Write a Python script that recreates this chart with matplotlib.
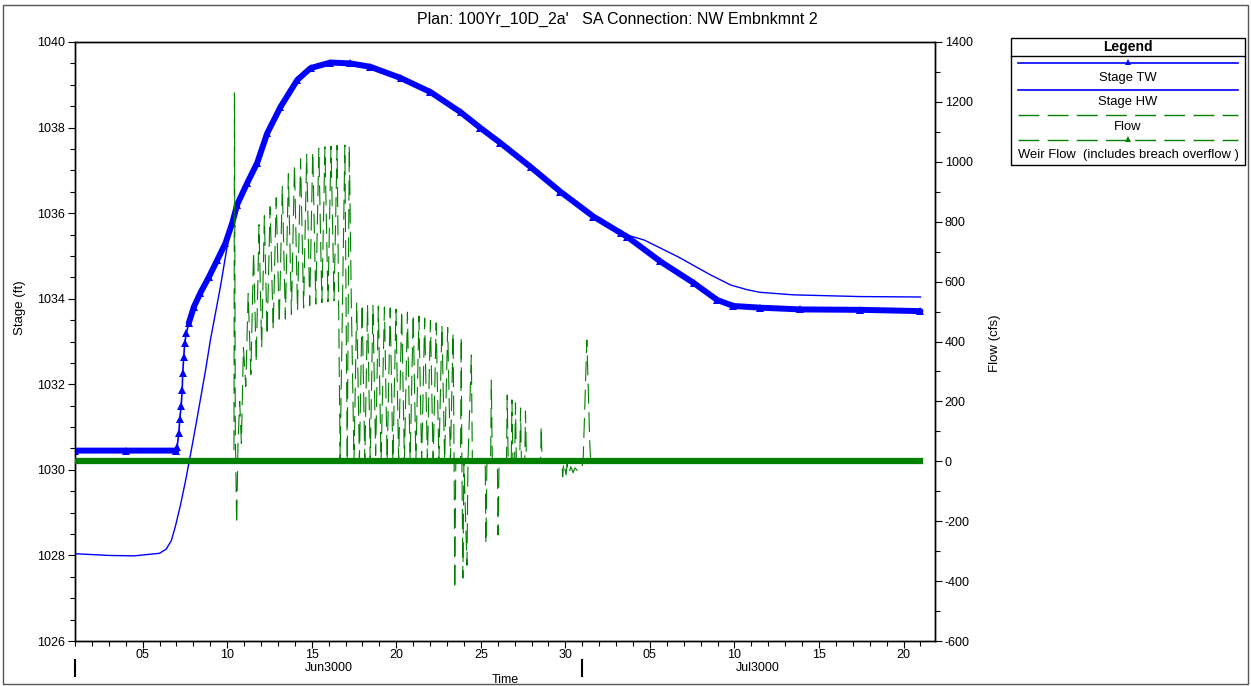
import matplotlib
matplotlib.use("Agg")
import numpy as np
import matplotlib.pyplot as plt
from matplotlib.ticker import MultipleLocator, FixedLocator, FuncFormatter
from matplotlib.patches import Rectangle
from matplotlib.lines import Line2D
import matplotlib.transforms as mtransforms

plt.rcParams['font.family'] = ['Liberation Sans', 'DejaVu Sans']

# ---------------- data (days since Jun 1 3000 00:00) ----------------
title = "Plan: 100Yr_10D_2a'   SA Connection: NW Embnkmnt 2"

tw_day = [0.0, 3.0, 6.0, 6.04, 6.14, 6.20, 6.28, 6.34, 6.37, 6.43, 6.49, 6.59, 6.73,
          7.03, 7.42, 7.91, 8.41, 8.90, 9.30, 9.59, 10.18, 10.77, 11.37, 12.15, 13.14,
          13.93, 15.11, 16.29, 17.47, 19.25, 21.02, 22.80, 23.98, 25.16, 26.94, 28.71,
          30.66, 32.30, 32.65, 34.62, 36.58, 37.98, 38.94, 40.54, 42.90, 46.45, 50.0]
tw_stage = [1030.45, 1030.45, 1030.45, 1030.54, 1030.86, 1031.20, 1031.50, 1031.87, 1032.27,
            1032.64, 1032.97, 1033.20, 1033.43, 1033.81, 1034.14, 1034.50, 1034.90, 1035.30,
            1035.77, 1036.20, 1036.70, 1037.17, 1037.87, 1038.48, 1039.11, 1039.39, 1039.52,
            1039.50, 1039.42, 1039.16, 1038.83, 1038.36, 1037.99, 1037.64, 1037.08, 1036.50,
            1035.92, 1035.53, 1035.45, 1034.87, 1034.37, 1033.97, 1033.83, 1033.79, 1033.75,
            1033.74, 1033.71]

hw_day = [0.0, 2.0, 3.5, 5.0, 5.4, 5.7, 5.95, 6.25, 6.55, 6.85, 7.15, 7.44, 7.73, 8.01,
          8.30, 8.60, 8.99, 9.29, 9.59, 10.18, 10.77, 11.37, 12.15, 13.14, 13.93, 15.11,
          16.29, 17.47, 19.25, 21.02, 22.80, 23.98, 25.16, 26.94, 28.71, 30.66, 32.30,
          33.67, 35.66, 37.57, 38.78, 39.75, 40.50, 42.50, 46.45, 50.0]
hw_stage = [1028.04, 1028.00, 1027.99, 1028.05, 1028.15, 1028.35, 1028.70, 1029.20, 1029.77,
            1030.40, 1031.05, 1031.70, 1032.35, 1033.04, 1033.65, 1034.28, 1035.20, 1035.77,
            1036.20, 1036.70, 1037.17, 1037.87, 1038.48, 1039.11, 1039.39, 1039.52, 1039.50,
            1039.42, 1039.16, 1038.83, 1038.36, 1037.99, 1037.64, 1037.08, 1036.50, 1035.92,
            1035.53, 1035.37, 1034.98, 1034.56, 1034.32, 1034.21, 1034.15, 1034.09, 1034.05,
            1034.04]

flow_day = [0.00, 9.40, 9.43, 9.48, 9.56, 9.64, 9.74, 9.84, 9.96, 10.10, 10.24, 10.40,
            10.56, 10.72, 10.88, 11.04, 11.20, 11.36, 11.54, 11.72, 11.90, 12.08, 12.26,
            12.44, 12.62, 12.80, 12.98, 13.16, 13.34, 13.52, 13.70, 13.88, 14.06, 14.24,
            14.42, 14.60, 14.78, 14.96, 15.14, 15.32, 15.50, 15.68, 15.82, 15.96, 16.10,
            16.22, 16.34, 16.50, 16.66, 16.82, 16.98, 17.14, 17.30, 17.46, 17.62, 17.78,
            17.94, 18.10, 18.30, 18.46, 18.64, 18.80, 18.98, 19.14, 19.32, 19.48, 19.66,
            19.82, 20.00, 20.16, 20.34, 20.50, 20.68, 20.84, 21.02, 21.18, 21.36, 21.52,
            21.70, 21.86, 22.04, 22.20, 22.36, 22.42, 22.46, 22.52, 22.80, 22.84, 22.88,
            22.94, 23.00, 23.18, 23.24, 23.44, 23.50, 24.26, 24.30, 24.36, 24.58, 24.62,
            24.68, 24.98, 25.02, 25.08, 25.52, 25.56, 25.62, 25.80, 25.84, 25.90, 26.00,
            26.05, 26.10, 26.30, 26.35, 26.40, 26.60, 26.64, 26.70, 27.54, 27.57, 27.62,
            28.80, 28.84, 28.90, 29.04, 29.10, 29.22, 29.32, 29.46, 29.56, 29.70, 29.82,
            29.96, 30.05, 30.27, 30.45, 30.50, 50.00]
flow_cfs = [0, 0, 1230, 100, -210, 60, 200, 60, 380, 250, 560, 290,
            700, 330, 790, 380, 820, 420, 850, 440, 880, 460, 920,
            475, 960, 490, 990, 502, 1010, 512, 1025, 520, 1035, 525,
            1045, 530, 1050, 533, 1052, 536, 1055, 10, 538, 1056, 0,
            1055, 535, 0, 530, 0, 526, 0, 524, 0, 520, 20,
            518, 0, 515, 0, 512, 0, 508, 0, 504, 0, 498,
            0, 492, 0, 485, 0, 478, 0, 470, 0, 462, 0,
            455, 0, 447, 0, 430, 0, -427, 0, 0, 416, 0,
            -390, 0, -347, 0, 355, 0, 0, -276, 0, 0, 271,
            0, 0, -246, 0, 0, 221, 0, 0, 205, 0, 0,
            195, 0, 0, 178, 0, 0, 168, 0, 0, 118, 0,
            0, -52, -5, -45, -10, -40, -18, -38, -22, -30, -35,
            -22, 0, 405, 50, 0, 0]

weir_day = [0.0, 50.0]
weir_cfs = [0, 0]

xtick_days = [4, 9, 14, 19, 24, 29, 34, 39, 44, 49]
xtick_labels = ["05", "10", "15", "20", "25", "30", "05", "10", "15", "20"]
month_labels = ["Jun3000", "Jul3000"]
month_start_days = [0, 30]
month_center_days = [15.0, 40.4]

legend_labels = ["Stage TW", "Stage HW", "Flow", "Weir Flow  (includes breach overflow )"]

BLUE = "#0000FF"
GREEN = "#008000"

# ---------------- figure ----------------
W, H = 1251, 686
fig = plt.figure(figsize=(W / 100, H / 100), dpi=100)


def px_rect(x0, y0, x1, y1):
    return [x0 / W, 1 - y1 / H, (x1 - x0) / W, (y1 - y0) / H]


ax = fig.add_axes(px_rect(75, 42, 935, 641))
ax2 = ax.twinx()

tw_d = np.array(tw_day)
tw_s = np.array(tw_stage)
# thick marker band where points are dense; single triangles on the steep rise
band = np.where((tw_d > 6.0) & (tw_d < 6.73), np.nan, tw_s)

ax.plot(hw_day, hw_stage, color=BLUE, lw=1.0, zorder=3)
ax.plot(tw_d, tw_s, color=BLUE, lw=1.2, marker="^", ms=5.5, mew=0, zorder=4)
ax.plot(tw_d, band, color=BLUE, lw=4.3, solid_joinstyle="round",
        solid_capstyle="round", zorder=4)

ax2.plot(weir_day, weir_cfs, color=GREEN, lw=4.5, zorder=3)
ax2.plot(flow_day, flow_cfs, color=GREEN, lw=0.8, linestyle=(0, (18, 7.5)), zorder=4)

ax.set_xlim(0, 50.86)
ax.set_ylim(1026, 1040)
ax2.set_ylim(-600, 1400)

ax.xaxis.set_major_locator(FixedLocator(xtick_days))
ax.set_xticklabels(xtick_labels)
ax.xaxis.set_minor_locator(MultipleLocator(1))
ax.yaxis.set_major_locator(MultipleLocator(2))
ax.yaxis.set_minor_locator(MultipleLocator(0.5))
ax.yaxis.set_major_formatter(FuncFormatter(lambda v, p: "%d" % v))
ax2.yaxis.set_major_locator(MultipleLocator(200))
ax2.yaxis.set_minor_locator(MultipleLocator(100))
ax2.yaxis.set_major_formatter(FuncFormatter(lambda v, p: "%d" % v))

for a in (ax, ax2):
    a.tick_params(which="major", direction="out", length=5, width=0.8, labelsize=9, pad=2)
    a.tick_params(which="minor", direction="out", length=3.5, width=0.8)
    for s in a.spines.values():
        s.set_linewidth(1.0)
ax.tick_params(axis="x", which="major", pad=1)

ax.patch.set_visible(False)

# month row
trans = mtransforms.blended_transform_factory(ax.transData, ax.transAxes)
for lab, c in zip(month_labels, month_center_days):
    ax.text(c, -0.045, lab, transform=trans, ha="center", va="center", fontsize=9)
for d in month_start_days:
    ax.add_line(Line2D([d, d], [-0.031, -0.058], transform=trans, color="black",
                       lw=1.5, clip_on=False))

fig.text(505 / W, 1 - 680 / H, "Time", ha="center", va="center", fontsize=9)
fig.text(20 / W, 1 - 308 / H, "Stage (ft)", ha="center", va="center", rotation=90, fontsize=9.5)
fig.text(995 / W, 1 - 343 / H, "Flow (cfs)", ha="center", va="center", rotation=90, fontsize=9.5)
fig.text(617 / W, 1 - 19 / H, title, ha="center", va="center", fontsize=11.5)

# overlay (legend box + frame)
ov = fig.add_axes([0, 0, 1, 1], zorder=10)
ov.set_xlim(0, W)
ov.set_ylim(H, 0)
ov.axis("off")
ov.patch.set_visible(False)

ov.add_patch(Rectangle((3, 5), W - 6, H - 7, fill=False, lw=1.0, ec="#555555"))

lx0, lx1, ly0, ly1 = 1011, 1245, 38, 165
ov.add_patch(Rectangle((lx0, ly0), lx1 - lx0, ly1 - ly0, fill=False, lw=1.0, ec="black"))
ov.plot([lx0, lx1], [56, 56], color="black", lw=1.0)
ov.text((lx0 + lx1) / 2, 47, "Legend", ha="center", va="center", fontsize=10, fontweight="bold")
xm = (lx0 + lx1) / 2
ov.plot([1018, 1238], [63, 63], color=BLUE, lw=1.2)
ov.plot([xm], [62], color=BLUE, marker="^", ms=5, mew=0)
ov.text(xm, 77.5, legend_labels[0], ha="center", va="center", fontsize=9.4)
ov.plot([1018, 1238], [90, 90], color=BLUE, lw=1.2)
ov.text(xm, 101.5, legend_labels[1], ha="center", va="center", fontsize=9.4)
ov.plot([1018, 1238], [115, 115], color=GREEN, lw=1.0, linestyle=(0, (15, 6)))
ov.text(xm, 127.5, legend_labels[2], ha="center", va="center", fontsize=9.4)
ov.plot([1018, 1238], [139.5, 139.5], color=GREEN, lw=1.0, linestyle=(0, (15, 6)))
ov.plot([xm], [138.5], color=GREEN, marker="^", ms=5, mew=0)
ov.text(xm, 155, legend_labels[3], ha="center", va="center", fontsize=9.4)

fig.savefig("out.png", dpi=100)
